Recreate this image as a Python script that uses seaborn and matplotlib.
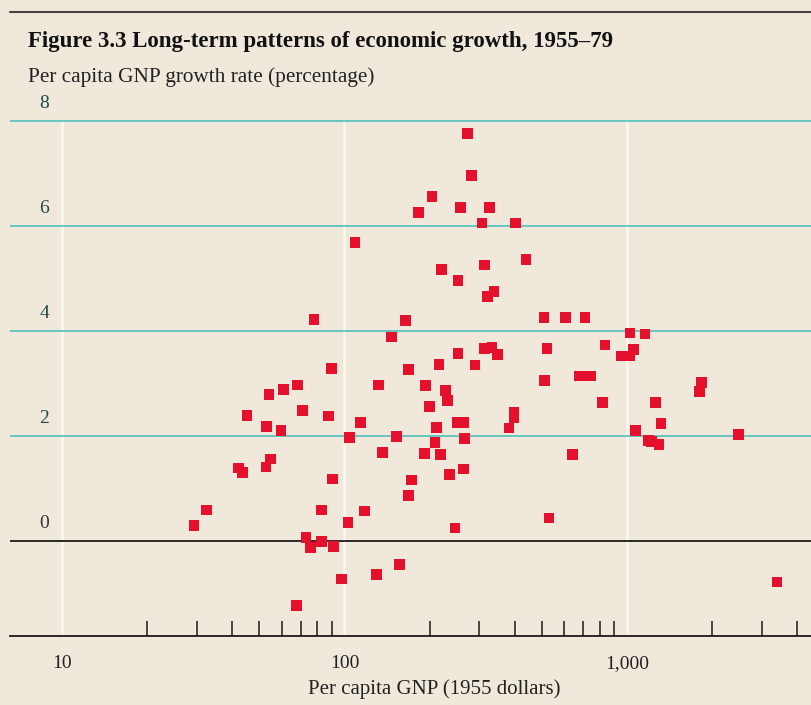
import numpy as np
import pandas as pd
import matplotlib
matplotlib.use("Agg")
import matplotlib.pyplot as plt
import matplotlib.ticker as mticker
from matplotlib.lines import Line2D
import seaborn as sns

# Per capita GNP (1955 dollars)
gnp = [273, 281, 204, 183, 258, 327, 307, 402, 109, 313, 439, 221, 252, 338, 320,
       78, 164, 508, 604, 710, 1025, 1159, 147, 836, 521, 314, 333, 349, 252, 290,
       958, 1025, 1054,
       90, 169, 216, 132, 193, 228, 232, 200, 68, 61, 54, 45.2, 71, 88, 114,
       52.9, 59.6, 104, 153, 212, 209, 250, 263, 266, 136, 192, 219, 263, 235,
       54.7, 52.7, 42.1, 43.5, 90.6, 173, 169, 32.5, 29.3, 82.8, 117.5, 103, 246,
       73.1, 75.9, 83, 91.6, 157, 130, 97.5, 67.5, 530, 3395,
       509, 678, 743, 1833, 1807, 818, 1260, 398, 398, 382, 1319, 1074, 1190,
       1224, 1297, 2478, 640]
# Per capita GNP growth rate (percentage)
growth = [7.75, 6.96, 6.56, 6.25, 6.35, 6.35, 6.05, 6.05, 5.68, 5.25, 5.35, 5.16, 4.95, 4.75, 4.65,
          4.21, 4.20, 4.25, 4.25, 4.25, 3.96, 3.94, 3.88, 3.73, 3.66, 3.66, 3.68, 3.55, 3.57, 3.35,
          3.52, 3.52, 3.65,
          3.28, 3.27, 3.36, 2.97, 2.96, 2.86, 2.67, 2.56, 2.97, 2.88, 2.79, 2.39, 2.49, 2.38, 2.26,
          2.18, 2.10, 1.97, 1.99, 2.16, 1.87, 2.25, 2.25, 1.95, 1.68, 1.66, 1.65, 1.37, 1.27,
          1.56, 1.41, 1.39, 1.30, 1.18, 1.16, 0.86, 0.59, 0.29, 0.59, 0.57, 0.36, 0.25,
          0.07, -0.12, -0.01, -0.11, -0.44, -0.64, -0.72, -1.23, 0.44, -0.78,
          3.05, 3.14, 3.14, 3.02, 2.84, 2.64, 2.63, 2.45, 2.34, 2.15, 2.24, 2.11, 1.92,
          1.89, 1.83, 2.02, 1.64]

y_ticks = [0, 2, 4, 6, 8]
y_tick_labels = ["0", "2", "4", "6", "8"]
x_major = [10, 100, 1000]
x_major_labels = ["10", "100", "1,000"]
x_minor = [20, 30, 40, 50, 60, 70, 80, 90, 200, 300, 400, 500, 600, 700, 800, 900, 2000, 3000, 4000]

df = pd.DataFrame({"gnp": gnp, "growth": growth})

BG = "#F0E9DB"
sns.set_style("white", {"axes.facecolor": BG, "figure.facecolor": BG})
plt.rcParams["font.family"] = ["Liberation Serif", "DejaVu Serif"]

fig = plt.figure(figsize=(8.12, 7.05), dpi=100)
ax = fig.add_axes([10 / 812, 69 / 705, 802 / 812, (636 - 110) / 705])
ax.set_facecolor(BG)

ax.set_xscale("log")
ax.set_xlim(6.545, 4518)
ax.set_ylim(-1.806, 8.2)

# gridlines
for v in y_ticks:
    if v == 0:
        ax.axhline(v, color="#1a1a1a", lw=1.3, zorder=1)
    else:
        ax.axhline(v, color="#5CC4BC", lw=1.3, zorder=1)
for v in x_major:
    ax.axvline(v, ymin=0, ymax=(8 - (-1.806)) / (8.2 + 1.806), color="#F7F9F0", lw=1.8, zorder=0.5)

sns.scatterplot(data=df, x="gnp", y="growth", ax=ax, marker="s", s=60,
                color="#E5112C", edgecolor="none", linewidth=0, zorder=3, legend=False)

for sp in ["top", "left", "right"]:
    ax.spines[sp].set_visible(False)
ax.spines["bottom"].set_color("#1a1a1a")
ax.spines["bottom"].set_linewidth(1.3)

ax.xaxis.set_major_locator(mticker.FixedLocator(x_major))
ax.xaxis.set_major_formatter(mticker.FixedFormatter(x_major_labels))
ax.xaxis.set_minor_locator(mticker.FixedLocator(x_minor))
ax.xaxis.set_minor_formatter(mticker.NullFormatter())
ax.tick_params(axis="x", which="major", bottom=True, length=0, pad=14, labelsize=14, colors="#222222")
ax.tick_params(axis="x", which="minor", bottom=True, direction="in", length=11, width=1.1,
               color="#1a1a1a")

ax.set_yticks([])
for v, lab in zip(y_ticks, y_tick_labels):
    ax.text(34 / 802, v + 0.33, lab, transform=ax.get_yaxis_transform(),
            ha="center", va="center", fontsize=14,
            color="#1f4a48" if v != 0 else "#333333")

ax.set_xlabel("Per capita GNP (1955 dollars)", fontsize=15, color="#222222")
ax.xaxis.set_label_coords((434 - 10) / 802, -(689 - 636) / 526)
ax.xaxis.label.set_va("center")
ax.set_ylabel("")

fig.text(28 / 812, 1 - 41 / 705, "Figure 3.3 Long-term patterns of economic growth, 1955\u201379",
         fontsize=16.5, fontweight="bold", ha="left", va="center", color="#111111")
fig.text(28 / 812, 1 - 77 / 705, "Per capita GNP growth rate (percentage)",
         fontsize=15.3, ha="left", va="center", color="#222222")

fig.add_artist(Line2D([10 / 812, 1.0], [1 - 12 / 705, 1 - 12 / 705], color="#444444", lw=1.5))

fig.savefig("out.png", dpi=100, facecolor=BG)
